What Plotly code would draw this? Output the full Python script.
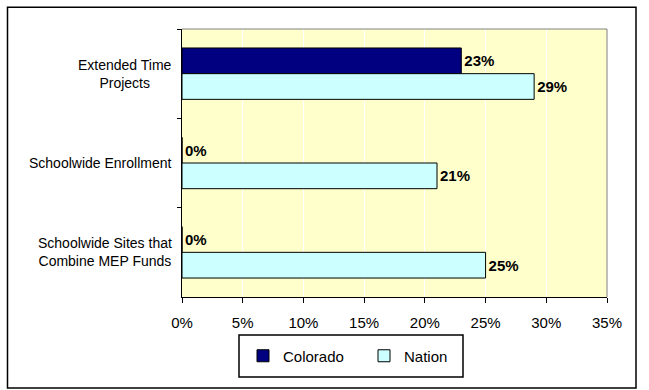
import plotly.graph_objects as go

categories = ["Extended Time<br>Projects", "Schoolwide Enrollment", "Schoolwide Sites that<br>Combine MEP Funds"]
colorado = [23, 0, 0]
nation = [29, 21, 25]
x_ticks = [0, 5, 10, 15, 20, 25, 30, 35]

W, H = 649, 390
L, R, T, B = 182, 42, 29, 93
pw, ph = W - L - R, H - T - B


def px(xp):
    return (xp - L) / pw


def py(yp):
    return (H - B - yp) / ph


font = "Liberation Sans, Arial, sans-serif"
label_font = dict(family=font, size=15, color="black", weight="bold")

fig = go.Figure()
fig.add_trace(go.Bar(
    y=categories, x=colorado, orientation="h", name="Colorado",
    marker=dict(color="#000080", line=dict(color="black", width=1)),
    text=[f"{v}%" for v in colorado], textposition="outside",
    textfont=label_font, cliponaxis=False,
))
fig.add_trace(go.Bar(
    y=categories, x=nation, orientation="h", name="Nation",
    marker=dict(color="#CCFFFF", line=dict(color="black", width=1)),
    text=[f"{v}%" for v in nation], textposition="outside",
    textfont=label_font, cliponaxis=False,
))

annotations = [
    dict(x=0, xref="paper", y=c, yref="y", text=c, showarrow=False,
         xanchor="right", yanchor="middle", align="center", xshift=-8,
         font=dict(family=font, size=14, color="black"))
    for c in categories
]

fig.update_layout(
    width=W, height=H,
    margin=dict(l=L, r=R, t=T, b=B, autoexpand=False),
    paper_bgcolor="white",
    plot_bgcolor="#FFFFCC",
    barmode="group",
    bargap=0.425,
    bargroupgap=0,
    font=dict(family=font, size=14, color="black"),
    showlegend=True,
    legend=dict(
        orientation="h", x=px(243), xanchor="left", y=py(356), yanchor="middle",
        borderwidth=0, bgcolor="rgba(0,0,0,0)",
        font=dict(family=font, size=15),
        traceorder="normal", entrywidth=76, entrywidthmode="pixels",
    ),
    xaxis=dict(
        range=[0, 35], tickvals=x_ticks, ticktext=[f"{v}%" for v in x_ticks],
        showgrid=True, gridcolor="white", gridwidth=1,
        showline=True, linecolor="black", linewidth=1,
        ticks="outside", ticklen=5, tickcolor="black", ticklabelstandoff=7,
        tickfont=dict(family=font, size=15), zeroline=False,
    ),
    yaxis=dict(
        autorange="reversed", showline=True, linecolor="black", linewidth=1,
        ticks="outside", ticklen=4, tickcolor="black", tickson="boundaries",
        showticklabels=False, showgrid=False,
    ),
    annotations=annotations,
    shapes=[
        dict(type="rect", xref="paper", yref="paper",
             x0=px(7.5), x1=px(636), y0=py(388), y1=py(7.3),
             line=dict(color="black", width=1.5), fillcolor="rgba(0,0,0,0)", layer="below"),
        dict(type="rect", xref="paper", yref="paper",
             x0=px(239), x1=px(463), y0=py(377), y1=py(335),
             line=dict(color="black", width=1.5), fillcolor="white", layer="below"),
        dict(type="line", xref="paper", yref="paper", x0=0, x1=1, y0=1, y1=1,
             line=dict(color="#808080", width=1), layer="above"),
        dict(type="line", xref="paper", yref="paper", x0=1, x1=1, y0=0, y1=1,
             line=dict(color="#808080", width=1), layer="above"),
    ],
)

fig.write_html("out.html", config={"displayModeBar": False},
               post_script="document.body.style.margin='0';")
